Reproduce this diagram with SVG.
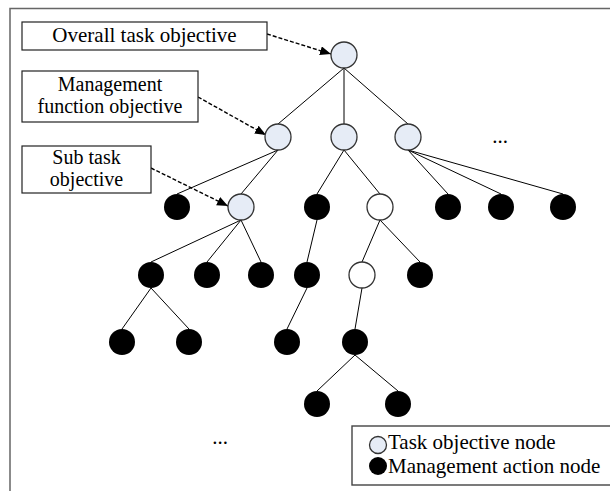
<svg xmlns="http://www.w3.org/2000/svg" width="610" height="491" viewBox="0 0 610 491">
<defs>
<marker id="ah" markerUnits="userSpaceOnUse" markerWidth="12" markerHeight="10" refX="11" refY="4.5" orient="auto">
<path d="M0,0 L11,4.5 L0,9 Z" fill="#000"/>
</marker>
<style>
.t{font-family:"Liberation Serif","Times New Roman",serif;font-size:21px;fill:#000}
.t2{font-family:"Liberation Serif","Times New Roman",serif;font-size:20px;fill:#000}
.box{fill:#fff;stroke:#222;stroke-width:1.2}
.obj{fill:#e6ecf6;stroke:#333;stroke-width:1.3}
.emp{fill:#fff;stroke:#333;stroke-width:1.3}
.act{fill:#000}
.e{stroke:#000;stroke-width:1;fill:none}
.d{stroke:#000;stroke-width:1.4;fill:none;stroke-dasharray:4 2}
</style>
</defs>
<rect x="10" y="8.5" width="620" height="500" fill="#fff" stroke="#666" stroke-width="1.5"/>

<g id="connectors">
<line class="e" x1="344" y1="68" x2="278" y2="124"/>
<line class="e" x1="344" y1="68" x2="344" y2="124"/>
<line class="e" x1="344" y1="68" x2="408" y2="124"/>
<line class="e" x1="278" y1="150" x2="177" y2="194"/>
<line class="e" x1="278" y1="150" x2="241" y2="194"/>
<line class="e" x1="344" y1="150" x2="317" y2="194"/>
<line class="e" x1="344" y1="150" x2="380" y2="194"/>
<line class="e" x1="408" y1="150" x2="448" y2="194"/>
<line class="e" x1="408" y1="150" x2="501" y2="194"/>
<line class="e" x1="408" y1="150" x2="563" y2="194"/>
<line class="e" x1="241" y1="220" x2="151" y2="262"/>
<line class="e" x1="241" y1="220" x2="207" y2="262"/>
<line class="e" x1="241" y1="220" x2="261" y2="262"/>
<line class="e" x1="317" y1="220" x2="307" y2="262"/>
<line class="e" x1="380" y1="220" x2="362" y2="262"/>
<line class="e" x1="380" y1="220" x2="420" y2="262"/>
<line class="e" x1="151" y1="288" x2="122" y2="329"/>
<line class="e" x1="151" y1="288" x2="189" y2="329"/>
<line class="e" x1="307" y1="288" x2="287" y2="329"/>
<line class="e" x1="362" y1="288" x2="355" y2="329"/>
<line class="e" x1="355" y1="355" x2="317" y2="391"/>
<line class="e" x1="355" y1="355" x2="398" y2="391"/>
<line class="d" x1="267" y1="34" x2="331" y2="54" marker-end="url(#ah)"/>
<line class="d" x1="198" y1="97" x2="266" y2="135" marker-end="url(#ah)"/>
<line class="d" x1="151" y1="168" x2="228" y2="206" marker-end="url(#ah)"/>
</g>

<g id="label-overall"><rect class="box" x="22" y="22" width="245" height="28"/><text class="t" x="144.5" y="42" text-anchor="middle">Overall task objective</text></g>
<g id="label-function"><rect class="box" x="22" y="71" width="176" height="51"/><text class="t2" text-anchor="middle"><tspan x="110" y="91">Management</tspan><tspan x="110" y="113">function objective</tspan></text></g>
<g id="label-sub"><rect class="box" x="22" y="146" width="129" height="47"/><text class="t2" text-anchor="middle"><tspan x="86.5" y="164">Sub task</tspan><tspan x="86.5" y="186">objective</tspan></text></g>

<g id="n-root"><circle class="obj" cx="344" cy="55" r="13"/></g>
<g id="n-f1"><circle class="obj" cx="278" cy="137" r="13"/></g>
<g id="n-f2"><circle class="obj" cx="344" cy="137" r="13"/></g>
<g id="n-f3"><circle class="obj" cx="408" cy="137" r="13"/></g>
<g id="n-a1"><circle class="act" cx="177" cy="207" r="13"/></g>
<g id="n-s1"><circle class="obj" cx="241" cy="207" r="13"/></g>
<g id="n-a2"><circle class="act" cx="317" cy="207" r="13"/></g>
<g id="n-w1"><circle class="emp" cx="380" cy="207" r="13"/></g>
<g id="n-a3"><circle class="act" cx="448" cy="207" r="13"/></g>
<g id="n-a4"><circle class="act" cx="501" cy="207" r="13"/></g>
<g id="n-a5"><circle class="act" cx="563" cy="207" r="13"/></g>
<g id="n-a6"><circle class="act" cx="151" cy="275" r="13"/></g>
<g id="n-a7"><circle class="act" cx="207" cy="275" r="13"/></g>
<g id="n-a8"><circle class="act" cx="261" cy="275" r="13"/></g>
<g id="n-a9"><circle class="act" cx="307" cy="275" r="13"/></g>
<g id="n-w2"><circle class="emp" cx="362" cy="275" r="13"/></g>
<g id="n-a10"><circle class="act" cx="420" cy="275" r="13"/></g>
<g id="n-a11"><circle class="act" cx="122" cy="342" r="13"/></g>
<g id="n-a12"><circle class="act" cx="189" cy="342" r="13"/></g>
<g id="n-a13"><circle class="act" cx="287" cy="342" r="13"/></g>
<g id="n-a14"><circle class="act" cx="355" cy="342" r="13"/></g>
<g id="n-a15"><circle class="act" cx="317" cy="404" r="13"/></g>
<g id="n-a16"><circle class="act" cx="398" cy="404" r="13"/></g>

<g id="ellipsis"><text class="t" x="500" y="143" text-anchor="middle">...</text><text class="t" x="220" y="444" text-anchor="middle">...</text></g>

<g id="legend">
<rect x="352" y="426" width="270" height="59" fill="#fff" stroke="#444" stroke-width="1.4"/>
<circle class="obj" cx="378" cy="445" r="8.5"/>
<circle class="act" cx="378" cy="466" r="9"/>
<text class="t" x="388" y="449">Task objective node</text>
<text class="t" x="388" y="473">Management action node</text>
</g>
</svg>
